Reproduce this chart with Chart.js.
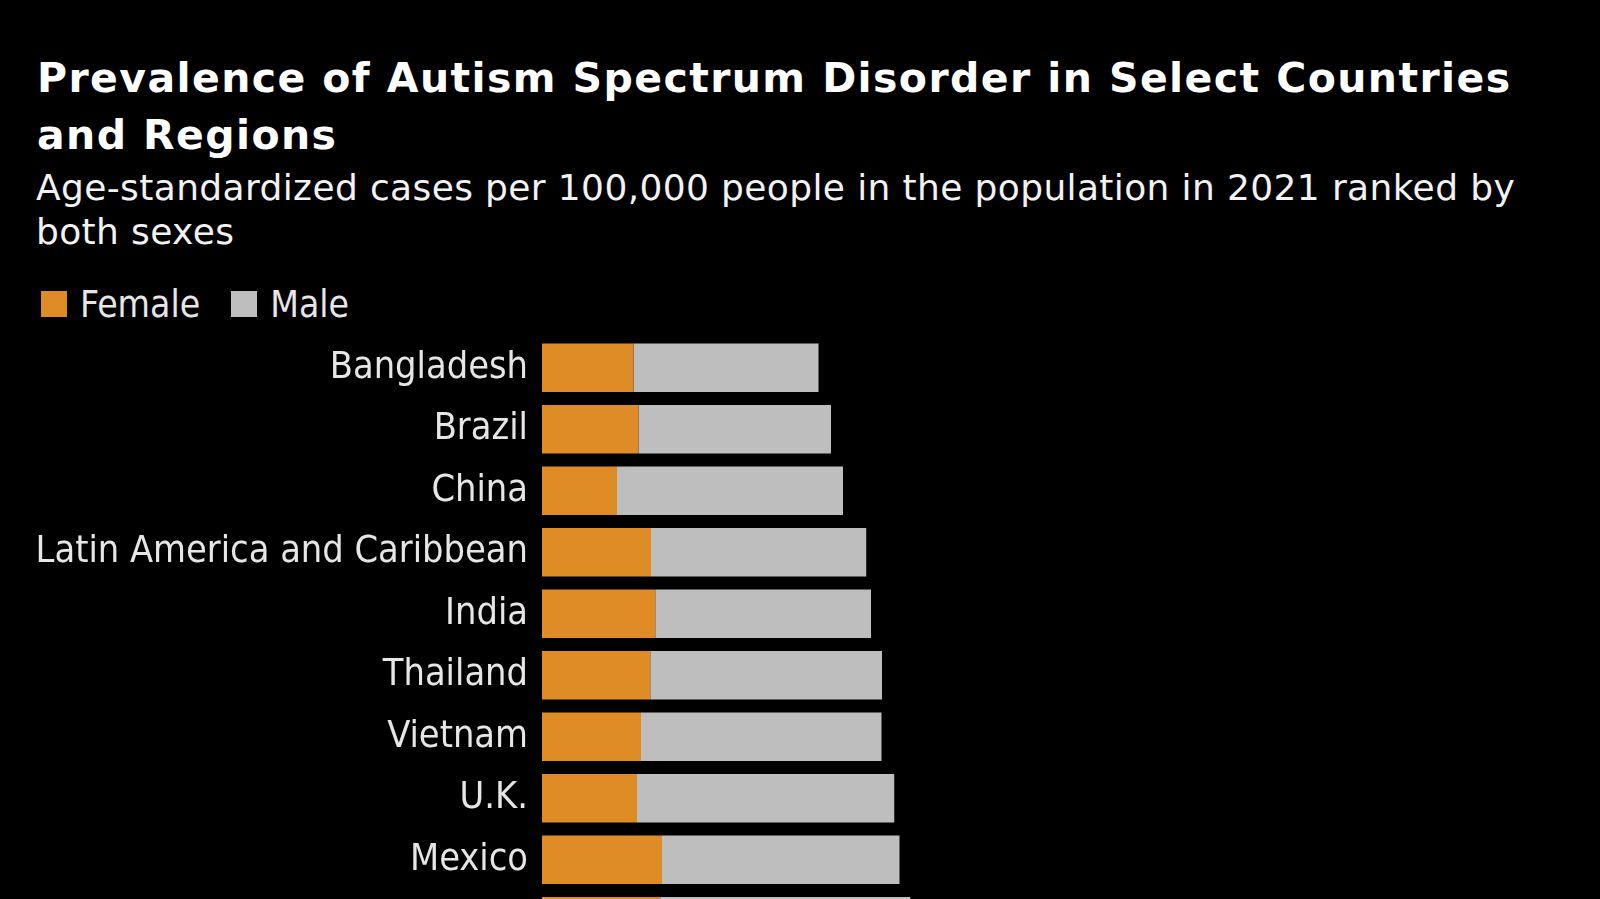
<!DOCTYPE html>
<html>
<head>
<meta charset="utf-8">
<script src="https://cdn.jsdelivr.net/npm/chart.js@4.4.1/dist/chart.umd.min.js"></script>
<style>
  html, body { margin: 0; padding: 0; background: #000; width: 1600px; height: 899px; overflow: hidden; }
  #title { position: absolute; left: 37px; top: 50px; width: 1560px; color: #fff;
    font-family: "DejaVu Sans", sans-serif; font-weight: bold; font-size: 41px; line-height: 57px; letter-spacing: 1.4px; white-space: nowrap; }
  #subtitle { position: absolute; left: 36px; top: 166px; width: 1560px; color: #f2f2f2;
    font-family: "DejaVu Sans", sans-serif; font-size: 36px; line-height: 44px; letter-spacing: 0.37px; white-space: nowrap; }
  #legend { position: absolute; left: 41px; top: 285px; height: 38px; display: flex; align-items: center;
    font-family: "DejaVu Sans Condensed", "DejaVu Sans", sans-serif; font-size: 37px; color: #e6e6e6; }
  .item { display: flex; align-items: center; margin-right: 31px; }
  .box { width: 26px; height: 26px; margin-right: 13px; }
  #wrap { position: absolute; left: 0; top: 337px; width: 1600px; height: 615px; }
</style>
</head>
<body>
<div id="title">Prevalence of Autism Spectrum Disorder in Select Countries<br>and Regions</div>
<div id="subtitle">Age-standardized cases per 100,000 people in the population in 2021 ranked by<br>both sexes</div>
<div id="legend"></div>
<div id="wrap"><canvas id="c"></canvas></div>
<script>
// Data (cases per 100,000; last row is cut off in the reference)
const categories = ["Bangladesh", "Brazil", "China", "Latin America and Caribbean", "India",
  "Thailand", "Vietnam", "U.K.", "Mexico", ""];
const female = [366, 386, 300, 436, 453, 433, 396, 380, 480, 473];
const male   = [740, 770, 904, 861, 863, 927, 962, 1029, 950, 1000];
const seriesNames = ["Female", "Male"];
const seriesColors = ["#DF8B26", "#BEBEBE"];

// HTML legend
const legend = document.getElementById('legend');
seriesNames.forEach((n, i) => {
  const it = document.createElement('div'); it.className = 'item';
  const b = document.createElement('div'); b.className = 'box'; b.style.background = seriesColors[i];
  const t = document.createElement('span'); t.textContent = n;
  it.appendChild(b); it.appendChild(t); legend.appendChild(it);
});

const labelFont = "'DejaVu Sans Condensed', 'DejaVu Sans', sans-serif";
new Chart(document.getElementById('c'), {
  type: 'bar',
  data: {
    labels: categories,
    datasets: [
      { label: seriesNames[0], data: female, backgroundColor: seriesColors[0], borderWidth: 0 },
      { label: seriesNames[1], data: male, backgroundColor: seriesColors[1], borderWidth: 0 }
    ]
  },
  options: {
    indexAxis: 'y',
    responsive: true,
    maintainAspectRatio: false,
    animation: false,
    layout: { padding: { left: 0, right: 58, top: 0, bottom: 0 } },
    categoryPercentage: 1.0,
    barPercentage: 0.79,
    plugins: { legend: { display: false }, tooltip: { enabled: false }, title: { display: false } },
    scales: {
      x: { stacked: true, display: false, min: 0, max: 4000 },
      y: {
        stacked: true,
        grid: { display: false, drawTicks: false },
        border: { display: false },
        ticks: { color: '#e6e6e6', padding: 14, font: { family: labelFont, size: 37.6 }, autoSkip: false },
        afterFit: (s) => { s.width = 542; s.paddingTop = 0; s.paddingBottom = 0; }
      }
    }
  }
});
</script>
</body>
</html>
